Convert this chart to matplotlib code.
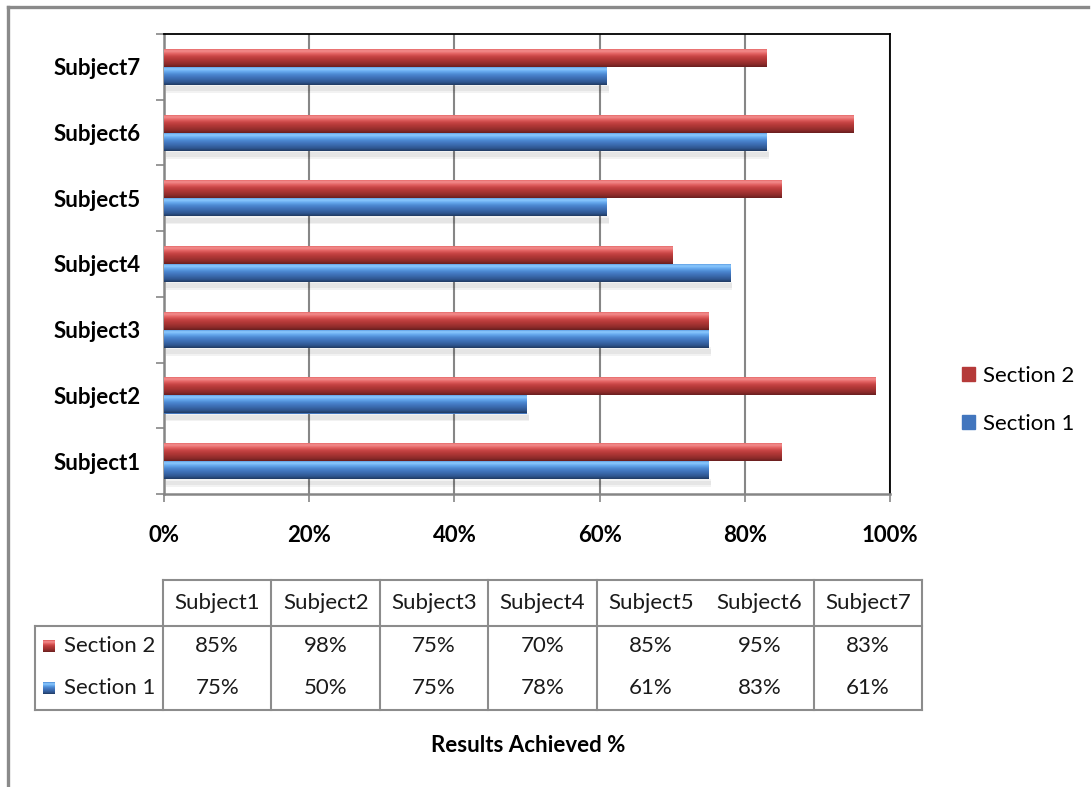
import numpy as np
import matplotlib
matplotlib.use('Agg')
import matplotlib.pyplot as plt
from matplotlib.colors import LinearSegmentedColormap
from matplotlib.lines import Line2D
from matplotlib.patches import Rectangle

plt.rcParams['font.family'] = ['Lato', 'DejaVu Sans']

subjects = ['Subject1', 'Subject2', 'Subject3', 'Subject4', 'Subject5', 'Subject6', 'Subject7']
section1 = [75, 50, 75, 78, 61, 83, 61]
section2 = [85, 98, 75, 70, 85, 95, 83]
x_ticks = [0, 20, 40, 60, 80, 100]

red_stops = ['#E05A5A', '#F38E8E', '#E46464', '#C94646', '#B53A39', '#A23231', '#8C2B2A', '#6A1F1F']
blue_stops = ['#4C8CD6', '#8CCAFF', '#66A9EE', '#4D8AD3', '#4276BE', '#3866A8', '#2F5690', '#203A62']
red_cmap = LinearSegmentedColormap.from_list('red3d', red_stops)
blue_cmap = LinearSegmentedColormap.from_list('blue3d', blue_stops)

W, H = 1091, 787
fig = plt.figure(figsize=(W / 100, H / 100), dpi=100)

# outer chart frame (only top and left visible)
fig.add_artist(Line2D([8 / W, 8 / W], [1 - 7 / H, 0], color='#8a8a8a', lw=2.4))
fig.add_artist(Line2D([8 / W, 1088 / W], [1 - 7 / H, 1 - 7 / H], color='#8a8a8a', lw=2.4))

ax = fig.add_axes([164 / W, 1 - 494 / H, 726 / W, 460 / H])

y = np.arange(len(subjects))
h = 0.275
grad = np.linspace(0, 1, 64).reshape(-1, 1)


def shaded(bars, cmap):
    for p in bars:
        x0, y0, w, hh = p.get_x(), p.get_y(), p.get_width(), p.get_height()
        im = ax.imshow(grad, extent=(x0, x0 + w, y0, y0 + hh), cmap=cmap,
                       aspect='auto', origin='upper', zorder=3, interpolation='bilinear')
        im.set_clip_path(p)


# soft shadow under each pair
for k in range(4):
    ax.barh(y - h - 0.02 - k * 0.025, section1, height=0.05, left=0.3,
            color='#000000', alpha=0.05, zorder=2, lw=0)

b1 = ax.barh(y - h / 2, section1, height=h, color='#4276BE', zorder=3, lw=0)
b2 = ax.barh(y + h / 2, section2, height=h, color='#B53A39', zorder=3, lw=0)
shaded(b1, blue_cmap)
shaded(b2, red_cmap)

ax.set_xlim(0, 100)
ax.set_ylim(-0.5, len(subjects) - 0.5)
ax.set_xticks(x_ticks)
ax.set_xticklabels([f'{v}%' for v in x_ticks], fontweight='bold', fontsize=16)
ax.tick_params(axis='x', length=6, width=1.2, color='#868686', pad=16)
ax.set_yticks(np.arange(len(subjects) + 1) - 0.5)
ax.set_yticklabels([])
ax.set_yticks(y, minor=True)
ax.set_yticklabels(subjects, minor=True, fontweight='bold', fontsize=16)
ax.tick_params(axis='y', which='major', length=6, width=1.2, color='#868686')
ax.tick_params(axis='y', which='minor', length=0, pad=17)
ax.grid(axis='x', color='#868686', lw=1.5, zorder=0)
ax.set_axisbelow(True)
for s in ['left', 'bottom']:
    ax.spines[s].set_color('#868686')
    ax.spines[s].set_linewidth(1.8)
for s in ['top', 'right']:
    ax.spines[s].set_color('black')
    ax.spines[s].set_linewidth(1.3)

# legend
handles = [Rectangle((0, 0), 1, 1, color='#B53A39'), Rectangle((0, 0), 1, 1, color='#4276BE')]
fig.legend(handles, ['Section 2', 'Section 1'], loc='center left',
           bbox_to_anchor=(962 / W, 1 - 400 / H), frameon=False, fontsize=16,
           handlelength=0.6, handleheight=0.6, labelspacing=1.25, handletextpad=0.35,
           borderaxespad=0, borderpad=0)

# data table below the chart, drawn in pixel coordinates
tax = fig.add_axes([0, 0, 1, 1], zorder=-1)
tax.axis('off')
line_c = '#8c8c8c'
col_left, col_right = 163, 922
col_w = (col_right - col_left) / len(subjects)
top, mid, bottom = 580, 626, 710
leg_left = 35
tax.plot([col_left, col_right], [top, top], color=line_c, lw=1.5)
tax.plot([leg_left, col_right], [mid, mid], color=line_c, lw=1.5)
tax.plot([leg_left, col_right], [bottom, bottom], color=line_c, lw=1.5)
tax.plot([leg_left, leg_left], [mid, bottom], color=line_c, lw=1.5)
for i in range(len(subjects) + 1):
    if i == 5:
        continue  # separator missing in the original
    xx = col_left + i * col_w
    tax.plot([xx, xx], [top, bottom], color=line_c, lw=1.5)

row_y = [(top + mid) / 2, 646, 688]
for i, s in enumerate(subjects):
    cx = col_left + (i + 0.5) * col_w
    tax.text(cx, row_y[0], s, ha='center', va='center', fontsize=16, color='#1a1a1a')
    tax.text(cx, row_y[1], f'{section2[i]}%', ha='center', va='center', fontsize=16, color='#1a1a1a')
    tax.text(cx, row_y[2], f'{section1[i]}%', ha='center', va='center', fontsize=16, color='#1a1a1a')

for yy, name, cmap in [(row_y[1], 'Section 2', red_cmap), (row_y[2], 'Section 1', blue_cmap)]:
    tax.imshow(grad, extent=(43, 55, yy + 6, yy - 6), cmap=cmap, aspect='auto', origin='upper')
    tax.text(64, yy, name, ha='left', va='center', fontsize=16, color='#1a1a1a')
tax.set_xlim(0, W)
tax.set_ylim(H, 0)

tax.text(528, 745, 'Results Achieved %', ha='center', va='center', fontsize=16, fontweight='bold')

fig.savefig('out.png', dpi=100)
